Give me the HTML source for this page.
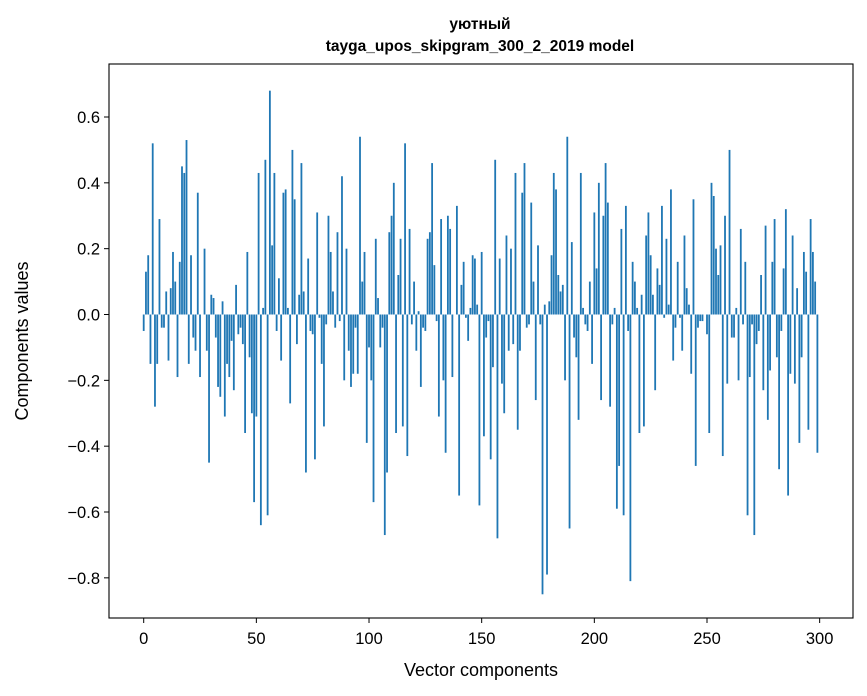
<!DOCTYPE html>
<html><head><meta charset="utf-8"><style>
body{margin:0;background:#fff;}
svg{display:block;font-family:"Liberation Sans","DejaVu Sans",sans-serif;}
</style></head><body>
<svg id="chart" width="867" height="696" viewBox="0 0 867 696" xmlns="http://www.w3.org/2000/svg">
<rect width="867" height="696" fill="#fff"/>
<text x="480" y="29" text-anchor="middle" font-size="15.5" font-weight="bold">уютный</text>
<text x="480" y="51" text-anchor="middle" font-size="15.5" font-weight="bold">tayga_upos_skipgram_300_2_2019 model</text>
<g id="bars"></g>
<g id="axes"></g>
<rect x="109" y="64" width="744" height="554" fill="none" stroke="#000" stroke-width="1.1"/>
<text x="481" y="676" text-anchor="middle" font-size="18">Vector components</text>
<text transform="translate(28,341) rotate(-90)" text-anchor="middle" font-size="18">Components values</text>
</svg>
<script>
const values = [
-0.05,0.13,0.18,-0.15,0.52,-0.28,-0.15,0.29,-0.04,-0.04,
0.07,-0.14,0.08,0.19,0.10,-0.19,0.16,0.45,0.43,0.53,
-0.15,0.18,-0.07,-0.11,0.37,-0.19,0.0,0.20,-0.11,-0.45,
0.06,0.05,-0.07,-0.22,-0.25,0.04,-0.31,-0.15,-0.19,-0.08,
-0.23,0.09,-0.06,-0.04,-0.09,-0.36,0.19,-0.13,-0.30,-0.57,
-0.31,0.43,-0.64,0.02,0.47,-0.61,0.68,0.21,0.43,-0.05,
0.11,-0.14,0.37,0.38,0.02,-0.27,0.50,0.35,-0.09,0.06,
0.46,0.07,-0.48,0.17,-0.05,-0.06,-0.44,0.31,-0.01,-0.15,
-0.34,-0.03,0.30,0.19,0.07,-0.04,0.25,-0.02,0.42,-0.20,
0.20,-0.11,-0.22,-0.18,-0.04,-0.18,0.54,0.10,0.19,-0.39,
-0.10,-0.20,-0.57,0.23,0.05,-0.10,-0.04,-0.67,-0.48,0.25,
0.30,0.40,-0.36,0.12,0.23,-0.34,0.52,-0.43,0.26,-0.03,
0.10,-0.11,0.01,-0.22,-0.04,-0.05,0.23,0.25,0.46,0.15,
-0.02,-0.31,0.29,-0.20,-0.42,0.30,0.26,-0.19,0.00,0.33,
-0.55,0.09,0.16,-0.01,-0.08,0.02,0.18,0.17,0.03,-0.58,
0.19,-0.37,-0.07,-0.02,-0.44,-0.16,0.47,-0.68,0.17,-0.21,
-0.30,0.24,-0.11,0.20,-0.09,0.43,-0.35,-0.11,0.37,0.46,
-0.04,-0.03,0.34,0.10,-0.26,0.21,-0.03,-0.85,0.03,-0.79,
0.04,0.18,0.43,0.38,0.12,0.07,0.09,-0.20,0.54,-0.65,
0.22,-0.07,-0.13,-0.32,0.43,0.02,-0.03,-0.05,0.10,-0.15,
0.31,0.14,0.40,-0.26,0.30,0.46,0.34,-0.28,-0.03,0.02,
-0.59,-0.46,0.26,-0.61,0.33,-0.05,-0.81,0.16,0.10,0.02,
-0.36,0.06,-0.34,0.24,0.31,0.18,0.06,-0.23,0.14,0.09,
0.33,-0.01,0.23,0.03,0.38,-0.14,-0.04,0.16,-0.01,-0.11,
0.24,0.08,0.03,-0.18,0.35,-0.46,-0.04,-0.02,-0.02,0.00,
-0.06,-0.36,0.40,0.36,0.20,0.12,0.21,-0.43,0.30,-0.21,
0.50,-0.07,-0.07,0.02,-0.20,0.26,-0.03,0.16,-0.61,-0.19,
-0.03,-0.67,-0.09,-0.05,0.12,-0.23,0.27,-0.32,-0.17,0.16,
0.29,-0.13,-0.47,-0.05,0.14,0.32,-0.55,-0.18,0.24,-0.21,
0.08,-0.39,-0.13,0.19,0.13,-0.35,0.29,0.19,0.10,-0.42
];
const yTicks = [-0.8,-0.6,-0.4,-0.2,0.0,0.2,0.4,0.6];
const xTicks = [0,50,100,150,200,250,300];

const L=109,R=853,T=64,B=618;
const xMin=-15.4,xMax=314.8,yMin=-0.922,yMax=0.761;
function xs(v){return L+(v-xMin)/(xMax-xMin)*(R-L);}
function ys(v){return B-(v-yMin)/(yMax-yMin)*(B-T);}
const NS="http://www.w3.org/2000/svg";
const gb=document.getElementById('bars');
values.forEach((v,i)=>{
  const r=document.createElementNS(NS,'rect');
  const x0=xs(i-0.4),x1=xs(i+0.4);
  const y0=ys(Math.max(v,0)),y1=ys(Math.min(v,0));
  r.setAttribute('x',x0);r.setAttribute('width',x1-x0);
  r.setAttribute('y',y0);r.setAttribute('height',Math.max(y1-y0,0.01));
  r.setAttribute('fill','#1f77b4');
  
  
  gb.appendChild(r);
});
const ga=document.getElementById('axes');
function fmt(v){const s=Math.abs(v).toFixed(1);return v<0?'\u2212'+s:s;}
yTicks.forEach(t=>{
  const y=ys(t);
  const l=document.createElementNS(NS,'line');
  l.setAttribute('x1',L-5);l.setAttribute('x2',L);l.setAttribute('y1',y);l.setAttribute('y2',y);
  l.setAttribute('stroke','#000');
  
  
  ga.appendChild(l);
  const tx=document.createElementNS(NS,'text');
  tx.setAttribute('x',L-9);tx.setAttribute('y',y+6);tx.setAttribute('text-anchor','end');tx.setAttribute('font-size','16.5');
  tx.textContent=fmt(t);
  
  
  ga.appendChild(tx);
});
xTicks.forEach(t=>{
  const x=xs(t);
  const l=document.createElementNS(NS,'line');
  l.setAttribute('x1',x);l.setAttribute('x2',x);l.setAttribute('y1',B);l.setAttribute('y2',B+5);
  l.setAttribute('stroke','#000');
  
  
  ga.appendChild(l);
  const tx=document.createElementNS(NS,'text');
  tx.setAttribute('x',x);tx.setAttribute('y',B+26);tx.setAttribute('text-anchor','middle');tx.setAttribute('font-size','16.5');
  tx.textContent=t;
  
  
  ga.appendChild(tx);
});
</script>
</body></html>
